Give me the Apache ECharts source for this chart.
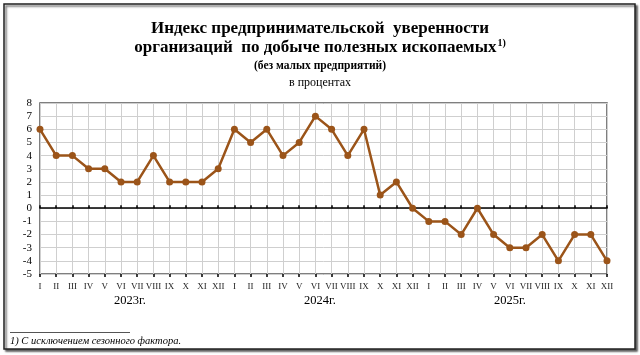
<!DOCTYPE html>
<html>
<head>
<meta charset="utf-8">
<script src="https://cdn.jsdelivr.net/npm/echarts@6/dist/echarts.min.js"></script>
<style>
  html, body { margin: 0; padding: 0; background: #fff; }
  #chart { width: 640px; height: 355px; }
</style>
</head>
<body>
<div id="chart"></div>
<script>
// месяцы по оси X (три года подряд)
const months = ['I','II','III','IV','V','VI','VII','VIII','IX','X','XI','XII'];
const categories = [].concat(months, months, months);
const years = ['2023г.', '2024г.', '2025г.'];

// индекс, %
const values2023 = [6, 4, 4, 3, 3, 2, 2, 4, 2, 2, 2, 3];
const values2024 = [6, 5, 6, 4, 5, 7, 6, 4, 6, 1, 2, 0];
const values2025 = [-1, -1, -2, 0, -2, -3, -3, -2, -4, -2, -2, -4];
const values = [].concat(values2023, values2024, values2025);

const serif = '"Liberation Serif", "DejaVu Serif", serif';
const lineColor = '#9b5419';

const chart = echarts.init(document.getElementById('chart'));

// линия нуля с засечками вверх и вниз
const zeroAxis = (inside) => ({
  type: 'category',
  data: categories,
  boundaryGap: false,
  position: 'bottom',
  axisLine: { show: inside, onZero: true, lineStyle: { color: '#000', width: 1.5 } },
  axisTick: { show: true, inside: inside, length: 3, interval: 0, lineStyle: { color: '#000', width: 1.5 } },
  axisLabel: { show: false },
  splitLine: { show: false }
});

chart.setOption({
  animation: false,
  textStyle: { fontFamily: serif },
  grid: {
    left: 40, right: 33, top: 103, bottom: 81,
    show: true, borderColor: '#555', borderWidth: 1.5
  },
  xAxis: [
    {
      type: 'category',
      data: categories,
      boundaryGap: false,
      axisLine: { show: false, onZero: false },
      axisTick: { show: false },
      axisLabel: { interval: 0, fontSize: 9, color: '#222', margin: 8, fontFamily: serif },
      splitLine: { show: true, interval: 0, lineStyle: { color: '#cfcfcf', width: 1 } }
    },
    zeroAxis(true),
    zeroAxis(false)
  ],
  yAxis: {
    type: 'value',
    min: -5, max: 8, interval: 1,
    axisLine: { show: false },
    axisTick: { show: false },
    axisLabel: { fontSize: 11, color: '#000', margin: 8, fontFamily: serif },
    splitLine: { lineStyle: { color: '#cfcfcf', width: 1 } }
  },
  series: [{
    type: 'line',
    data: values,
    xAxisIndex: 0,
    symbol: 'circle',
    symbolSize: 7,
    lineStyle: { color: lineColor, width: 2.5 },
    itemStyle: { color: lineColor },
    z: 5
  }],
  graphic: [
    {
      type: 'rect', z: -1,
      shape: { x: 4, y: 4, width: 631, height: 345 },
      style: { fill: '#fff', stroke: '#222', lineWidth: 1.5,
               shadowColor: 'rgba(0,0,0,0.6)', shadowOffsetX: 2, shadowOffsetY: 2, shadowBlur: 2 }
    },
    {
      type: 'text', left: 'center', top: 20,
      style: { text: 'Индекс предпринимательской  уверенности', font: 'bold 17px ' + serif, fill: '#000' }
    },
    {
      type: 'text', left: 'center', top: 38,
      style: {
        text: '{a|организаций  по добыче полезных ископаемых}{s|1)}',
        rich: {
          a: { font: 'bold 17px ' + serif, fill: '#000', verticalAlign: 'bottom' },
          s: { font: 'bold 10px ' + serif, fill: '#000', verticalAlign: 'top', padding: [0, 0, 8, 1] }
        }
      }
    },
    {
      type: 'text', left: 'center', top: 60,
      style: { text: '(без малых предприятий)', font: 'bold 11.5px ' + serif, fill: '#000' }
    },
    {
      type: 'text', left: 'center', top: 77,
      style: { text: 'в процентах', font: '12px ' + serif, fill: '#000' }
    },
    {
      type: 'text', x: 130, y: 301,
      style: { text: years[0], font: '12.5px ' + serif, fill: '#000', align: 'center', verticalAlign: 'middle' }
    },
    {
      type: 'text', x: 320, y: 301,
      style: { text: years[1], font: '12.5px ' + serif, fill: '#000', align: 'center', verticalAlign: 'middle' }
    },
    {
      type: 'text', x: 510, y: 301,
      style: { text: years[2], font: '12.5px ' + serif, fill: '#000', align: 'center', verticalAlign: 'middle' }
    },
    {
      type: 'line',
      shape: { x1: 10, y1: 332.5, x2: 130, y2: 332.5 },
      style: { stroke: '#555', lineWidth: 1 }
    },
    {
      type: 'text', x: 10, y: 341,
      style: { text: '1) С исключением сезонного фактора.', font: 'italic 10.5px ' + serif, fill: '#000', verticalAlign: 'middle' }
    }
  ]
});
</script>
</body>
</html>
